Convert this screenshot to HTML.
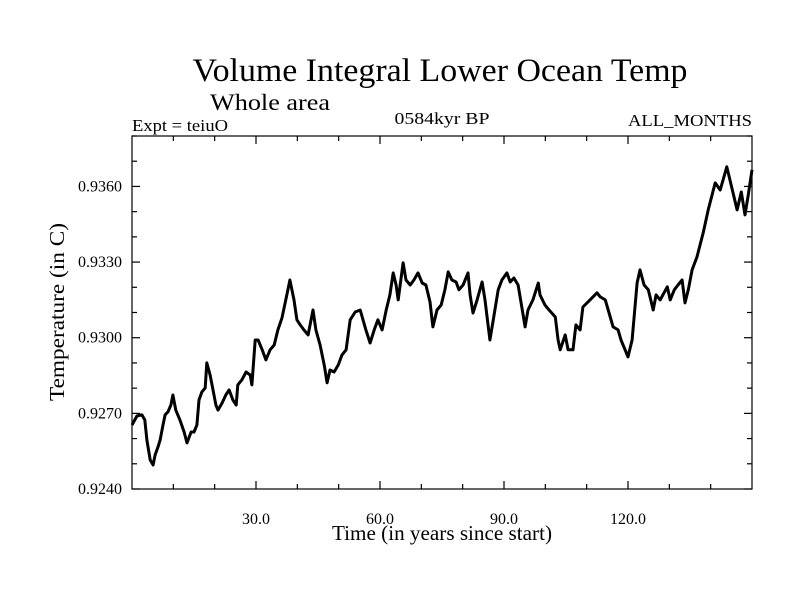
<!DOCTYPE html>
<html><head><meta charset="utf-8"><style>
html,body{margin:0;padding:0;background:#fff;}
svg{display:block;font-family:"Liberation Serif",serif;}
</style></head><body>
<svg id="chart" width="800" height="600" viewBox="0 0 800 600" xmlns="http://www.w3.org/2000/svg">
<rect width="800" height="600" fill="#fff"/>
<text x="440" y="81" font-size="33" text-anchor="middle" textLength="495" lengthAdjust="spacingAndGlyphs">Volume Integral Lower Ocean Temp</text>
<text x="210" y="110" font-size="23" textLength="120" lengthAdjust="spacingAndGlyphs">Whole area</text>
<text x="132" y="131" font-size="17" textLength="96" lengthAdjust="spacingAndGlyphs">Expt = teiuO</text>
<text x="442" y="124" font-size="17" text-anchor="middle" textLength="95" lengthAdjust="spacingAndGlyphs">0584kyr BP</text>
<text x="752" y="126" font-size="17" text-anchor="end" textLength="124" lengthAdjust="spacingAndGlyphs">ALL_MONTHS</text>
<text x="442" y="540" font-size="21" text-anchor="middle" textLength="220" lengthAdjust="spacingAndGlyphs">Time (in years since start)</text>
<text transform="translate(64,312) rotate(-90)" font-size="21" text-anchor="middle" textLength="178" lengthAdjust="spacingAndGlyphs">Temperature (in C)</text>
<g id="axes"></g>
<path id="series" fill="none" stroke="#000" stroke-width="3" stroke-linejoin="round"/>
</svg>
<script>
const years = [0,1.2,2.4,3.1,3.6,4.4,5.1,5.6,6.3,6.8,7.5,8.0,8.7,9.4,9.9,10.6,11.6,12.6,13.3,14.3,15.0,15.7,16.2,16.9,17.7,18.1,18.9,19.6,20.3,20.8,21.8,22.7,23.5,24.4,25.2,25.6,26.6,27.6,28.6,29.0,29.8,30.5,31.5,32.4,33.4,34.4,35.3,36.3,37.3,38.2,39.2,39.9,40.7,41.6,42.6,43.8,44.5,45.5,46.5,47.2,47.9,48.9,49.9,50.8,51.8,52.8,54.0,55.2,56.6,57.6,58.6,59.5,60.5,61.5,62.4,63.2,63.9,64.4,65.6,66.3,67.3,68.2,69.2,70.2,71.1,72.1,72.8,73.8,74.8,75.7,76.5,77.4,78.4,79.1,80.1,81.3,81.8,82.5,83.5,84.7,85.4,86.6,87.4,88.6,89.5,90.7,91.5,92.4,93.4,93.9,95.1,95.8,97.0,98.3,98.7,99.9,100.9,102.4,103.1,103.6,104.8,105.5,106.7,107.4,108.4,109.1,110.8,112.5,113.3,114.5,116.4,117.6,118.3,119.3,120.0,121.0,122.2,122.9,123.9,124.9,126.1,126.8,127.8,129.5,130.2,131.2,132.1,133.1,133.8,134.6,135.5,136.7,138.2,139.4,141.1,142.3,143.9,145.4,146.4,147.4,148.3,149.1,150.0];
const temps = [.92654,.92690,.92694,.92674,.92594,.92515,.92495,.92535,.92567,.92594,.92654,.92694,.92706,.92733,.92773,.92713,.92674,.92626,.92583,.92626,.92626,.92654,.92753,.92785,.92801,.92900,.92852,.92793,.92733,.92713,.92741,.92773,.92793,.92753,.92733,.92813,.92833,.92864,.92852,.92813,.92991,.92991,.92952,.92912,.92952,.92971,.93031,.93079,.93158,.93229,.93150,.93071,.93051,.93031,.93011,.93110,.93031,.92971,.92892,.92821,.92872,.92864,.92892,.92932,.92952,.93071,.93102,.93110,.93031,.92979,.93031,.93071,.93031,.93110,.93170,.93257,.93209,.93150,.93297,.93229,.93209,.93229,.93257,.93217,.93209,.93142,.93043,.93110,.93130,.93190,.93261,.93229,.93221,.93190,.93209,.93257,.93170,.93098,.93150,.93221,.93150,.92991,.93071,.93190,.93229,.93257,.93221,.93237,.93209,.93162,.93043,.93110,.93150,.93217,.93170,.93130,.93110,.93082,.92991,.92952,.93011,.92952,.92952,.93051,.93031,.93122,.93150,.93178,.93162,.93150,.93043,.93031,.92991,.92952,.92924,.92991,.93217,.93269,.93209,.93190,.93110,.93170,.93150,.93202,.93150,.93190,.93209,.93229,.93138,.93190,.93269,.93321,.93416,.93507,.93614,.93586,.93678,.93575,.93507,.93578,.93487,.93567,.93666];
const yTickValues = [0.924,0.927,0.930,0.933,0.936];
const yTickLabels = ["0.9240","0.9270","0.9300","0.9330","0.9360"];
const xTickValues = [30,60,90,120];
const xTickLabels = ["30.0","60.0","90.0","120.0"];

const X0=132,X1=752,Y0=136,Y1=489;
const xMin=0,xMax=150,yMin=0.924,yMax=0.938;
function xs(v){return X0+(v-xMin)/(xMax-xMin)*(X1-X0);}
function ys(v){return Y1-(v-yMin)/(yMax-yMin)*(Y1-Y0);}
const NS="http://www.w3.org/2000/svg";
const axes=document.getElementById('axes');
function line(x1,y1,x2,y2,name){
  const l=document.createElementNS(NS,'line');
  l.setAttribute('x1',x1);l.setAttribute('y1',y1);l.setAttribute('x2',x2);l.setAttribute('y2',y2);
  l.setAttribute('stroke','#000');l.setAttribute('stroke-width','1.2');
  
  
  axes.appendChild(l);
}
function text(x,y,s,anchor,name){
  const t=document.createElementNS(NS,'text');
  t.setAttribute('x',x);t.setAttribute('y',y);t.setAttribute('font-size','16');
  t.setAttribute('text-anchor',anchor);t.textContent=s;
  
  
  axes.appendChild(t);
}
const frame=document.createElementNS(NS,'rect');
frame.setAttribute('x',X0);frame.setAttribute('y',Y0);frame.setAttribute('width',X1-X0);frame.setAttribute('height',Y1-Y0);
frame.setAttribute('fill','none');frame.setAttribute('stroke','#000');frame.setAttribute('stroke-width','1.2');


axes.appendChild(frame);
for(let k=0;k<=14;k++){
  const v=yMin+k*0.001, y=ys(v), major=(k%3===0)&&k<=12;
  const len=major?8:5;
  line(X0,y,X0+len,y,'y-tick');
  line(X1,y,X1-len,y,'y-tick-right');
}
yTickValues.forEach((v,i)=>text(122,ys(v)+5,yTickLabels[i],'end','y-tick-label'));
for(let v=10;v<150;v+=10){
  const x=xs(v), major=(v%30===0), len=major?8:5;
  line(x,Y1,x,Y1-len,'x-tick');
  line(x,Y0,x,Y0+len,'x-tick-top');
}
xTickValues.forEach((v,i)=>text(xs(v),524,xTickLabels[i],'middle','x-tick-label'));
let d='';
for(let i=0;i<years.length;i++){d+=(i?'L':'M')+xs(years[i]).toFixed(1)+','+ys(temps[i]).toFixed(1);}
document.getElementById('series').setAttribute('d',d);
</script>
</body></html>
